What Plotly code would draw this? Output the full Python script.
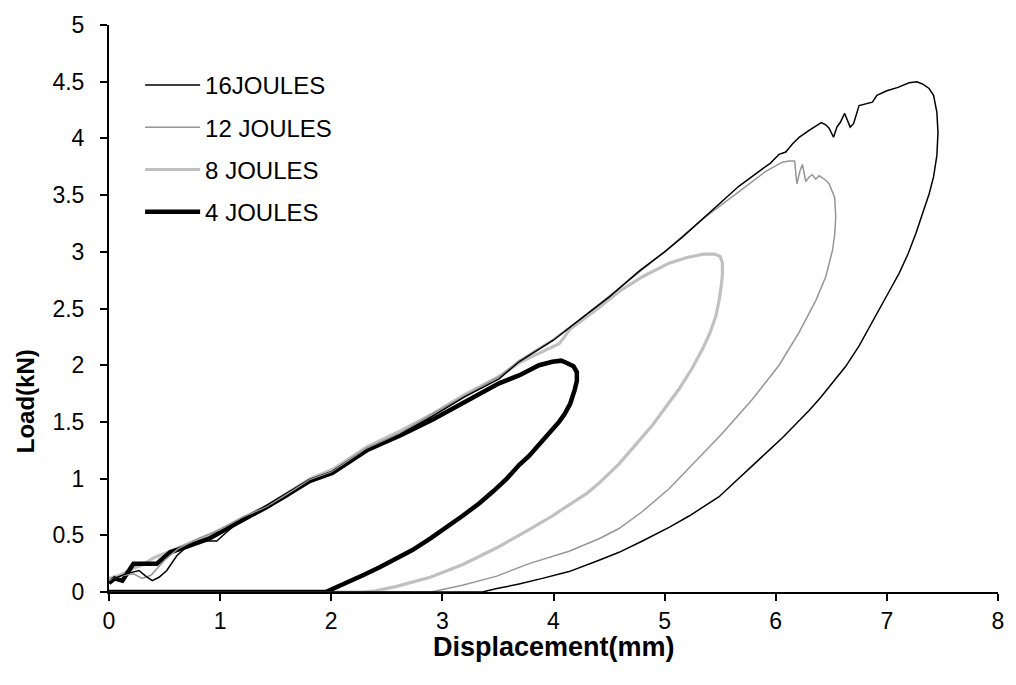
import plotly.graph_objects as go

# Load-displacement curves from low-velocity impact tests (loading, peak, unloading, rebound)
x_16j = [0.00, 0.05, 0.15, 0.27, 0.33, 0.39, 0.45, 0.52, 0.61, 0.70, 0.82, 0.97, 1.05, 1.12, 1.25,
         1.42, 1.60, 1.81, 2.01, 2.32, 2.62, 2.91, 3.20, 3.51, 3.69, 4.00, 4.30, 4.50, 4.77, 5.00,
         5.16, 5.40, 5.67, 5.85, 5.95, 6.03, 6.09, 6.15, 6.21, 6.30, 6.41, 6.45, 6.48, 6.52, 6.55,
         6.58, 6.62, 6.67, 6.70, 6.75, 6.87, 6.91, 7.00, 7.10, 7.20, 7.27, 7.32, 7.38, 7.42, 7.45,
         7.46, 7.45, 7.42, 7.38, 7.32, 7.26, 7.19, 7.11, 7.02, 6.93, 6.84, 6.75, 6.63, 6.51, 6.40,
         6.30, 6.18, 6.06, 5.95, 5.85, 5.67, 5.49, 5.22, 5.04, 4.80, 4.59, 4.41, 4.14, 3.90, 3.69,
         3.49, 3.36, 0.00]
y_16j = [0.08, 0.12, 0.16, 0.19, 0.14, 0.10, 0.13, 0.19, 0.32, 0.40, 0.45, 0.45, 0.52, 0.58, 0.66,
         0.74, 0.84, 0.98, 1.05, 1.25, 1.39, 1.55, 1.72, 1.88, 2.03, 2.22, 2.45, 2.60, 2.83, 3.00,
         3.13, 3.34, 3.58, 3.71, 3.78, 3.86, 3.88, 3.95, 4.01, 4.07, 4.14, 4.12, 4.09, 4.01, 4.10,
         4.14, 4.22, 4.10, 4.13, 4.29, 4.32, 4.38, 4.42, 4.45, 4.49, 4.50, 4.48, 4.44, 4.38, 4.23,
         4.05, 3.85, 3.66, 3.51, 3.33, 3.16, 2.98, 2.81, 2.65, 2.49, 2.33, 2.17, 1.99, 1.84, 1.71,
         1.60, 1.48, 1.36, 1.26, 1.17, 1.00, 0.84, 0.67, 0.57, 0.45, 0.35, 0.28, 0.18, 0.12, 0.07,
         0.03, 0.00, 0.00]

x_12j = [0.00, 0.10, 0.22, 0.30, 0.38, 0.50, 0.62, 0.80, 1.00, 1.20, 1.42, 1.81, 2.01, 2.32, 2.62,
         2.91, 3.20, 3.51, 3.69, 4.00, 4.30, 4.77, 5.00, 5.20, 5.37, 5.67, 5.91, 6.06, 6.12, 6.17,
         6.19, 6.22, 6.24, 6.27, 6.30, 6.33, 6.36, 6.39, 6.44, 6.48, 6.53, 6.54, 6.53, 6.51, 6.45,
         6.36, 6.21, 6.03, 5.79, 5.52, 5.25, 5.04, 4.80, 4.59, 4.41, 4.14, 3.78, 3.49, 3.18, 3.00,
         2.90, 0.00]
y_12j = [0.10, 0.14, 0.16, 0.12, 0.15, 0.28, 0.38, 0.47, 0.55, 0.66, 0.75, 0.99, 1.06, 1.27, 1.40,
         1.57, 1.73, 1.90, 2.04, 2.23, 2.45, 2.82, 3.00, 3.17, 3.31, 3.53, 3.71, 3.79, 3.80, 3.80,
         3.60, 3.72, 3.77, 3.62, 3.66, 3.68, 3.64, 3.67, 3.64, 3.60, 3.48, 3.31, 3.15, 3.01, 2.78,
         2.57, 2.29, 2.00, 1.70, 1.40, 1.12, 0.91, 0.71, 0.56, 0.47, 0.36, 0.25, 0.14, 0.06, 0.02,
         0.00, 0.00]

x_8j = [0.00, 0.10, 0.20, 0.30, 0.40, 0.55, 0.70, 0.90, 1.10, 1.42, 1.81, 2.01, 2.32, 2.62, 2.91,
        3.20, 3.51, 3.69, 3.90, 4.05, 4.10, 4.14, 4.40, 4.59, 4.80, 5.04, 5.20, 5.35, 5.45, 5.50,
        5.52, 5.52, 5.51, 5.49, 5.46, 5.41, 5.34, 5.24, 5.13, 5.01, 4.89, 4.74, 4.59, 4.41, 4.30,
        4.08, 3.99, 3.78, 3.49, 3.18, 2.89, 2.59, 2.40, 2.28, 0.00]
y_8j = [0.12, 0.15, 0.20, 0.24, 0.30, 0.36, 0.42, 0.50, 0.60, 0.76, 1.00, 1.08, 1.28, 1.42, 1.57,
        1.74, 1.90, 2.02, 2.12, 2.19, 2.25, 2.31, 2.50, 2.65, 2.78, 2.90, 2.95, 2.98, 2.98, 2.96,
        2.90, 2.80, 2.70, 2.57, 2.43, 2.29, 2.14, 1.96, 1.79, 1.63, 1.47, 1.30, 1.13, 0.96, 0.87,
        0.73, 0.67, 0.55, 0.39, 0.24, 0.13, 0.05, 0.01, 0.00, 0.00]

x_4j = [0.00, 0.05, 0.12, 0.22, 0.43, 0.55, 0.70, 0.90, 1.10, 1.42, 1.81, 2.01, 2.32, 2.62, 2.91,
        3.20, 3.51, 3.69, 3.87, 3.99, 4.07, 4.12, 4.18, 4.21, 4.21, 4.19, 4.15, 4.10, 4.05, 3.96,
        3.87, 3.78, 3.69, 3.58, 3.46, 3.33, 3.18, 3.04, 2.89, 2.73, 2.58, 2.44, 2.29, 2.14, 1.99,
        1.95, 0.00]
y_4j = [0.08, 0.12, 0.10, 0.25, 0.25, 0.35, 0.40, 0.47, 0.58, 0.75, 0.98, 1.05, 1.25, 1.38, 1.52,
        1.68, 1.84, 1.91, 2.00, 2.03, 2.04, 2.02, 1.99, 1.94, 1.86, 1.78, 1.66, 1.57, 1.50, 1.40,
        1.30, 1.20, 1.12, 1.00, 0.89, 0.78, 0.67, 0.57, 0.47, 0.37, 0.29, 0.22, 0.15, 0.08, 0.02,
        0.00, 0.00]

x_ticks = [0, 1, 2, 3, 4, 5, 6, 7, 8]
y_ticks = [0, 0.5, 1, 1.5, 2, 2.5, 3, 3.5, 4, 4.5, 5]
y_tick_text = ["0", "0.5", "1", "1.5", "2", "2.5", "3", "3.5", "4", "4.5", "5"]

FONT = "Liberation Sans, Arial, sans-serif"
# trailing gap that pushes the load labels a little further from their ticks
LABEL_GAP = "\u00a0\u2009"

series = [
    # (name, x, y, colour, width, legend rank) – drawn in this order
    ("8 JOULES", x_8j, y_8j, "#c0c0c0", 3.2, 3),
    ("4 JOULES", x_4j, y_4j, "#000000", 4.5, 4),
    ("12 JOULES", x_12j, y_12j, "#969696", 1.5, 2),
    ("16JOULES", x_16j, y_16j, "#000000", 1.5, 1),
]

fig = go.Figure()
for name, xs, ys, colour, width, rank in series:
    fig.add_trace(go.Scatter(
        x=xs, y=ys, mode="lines", name=name,
        line=dict(color=colour, width=width),
        legendrank=rank, legendgroup=name,
    ))

# Axis titles placed as paper-anchored text
fig.add_annotation(
    text="<b>Displacement(mm)</b>", xref="paper", yref="paper",
    x=0.5, y=-0.097, xanchor="center", yanchor="middle", showarrow=False,
    font=dict(family=FONT, size=27, color="black"),
)
fig.add_annotation(
    text="<b>Load(kN)</b>", xref="paper", yref="paper", textangle=-90,
    x=-0.093, y=0.337, xanchor="center", yanchor="middle", showarrow=False,
    font=dict(family=FONT, size=24, color="black"),
)

fig.update_layout(
    width=1016, height=685,
    margin=dict(l=109, r=17, t=19, b=93),
    paper_bgcolor="white", plot_bgcolor="white",
    font=dict(family=FONT, size=23, color="black"),
    showlegend=True,
    legend=dict(
        x=0.035, y=0.933, xanchor="left", yanchor="top",
        bgcolor="rgba(0,0,0,0)", borderwidth=0,
        font=dict(family=FONT, size=24, color="black"),
        traceorder="grouped", tracegroupgap=8, itemwidth=55,
    ),
    xaxis=dict(
        range=[0, 8], tickvals=x_ticks, ticks="outside", ticklen=7, tickwidth=2,
        tickcolor="black", showline=True, linecolor="black", linewidth=2,
        showgrid=False, zeroline=False,
        tickfont=dict(family=FONT, size=23),
    ),
    yaxis=dict(
        range=[0, 5], tickvals=y_ticks, ticktext=[t + LABEL_GAP for t in y_tick_text],
        ticks="outside", ticklen=7,
        tickwidth=2, tickcolor="black", showline=True, linecolor="black", linewidth=2,
        showgrid=False, zeroline=False,
        tickfont=dict(family=FONT, size=23),
    ),
)

fig.write_html("out.html")
